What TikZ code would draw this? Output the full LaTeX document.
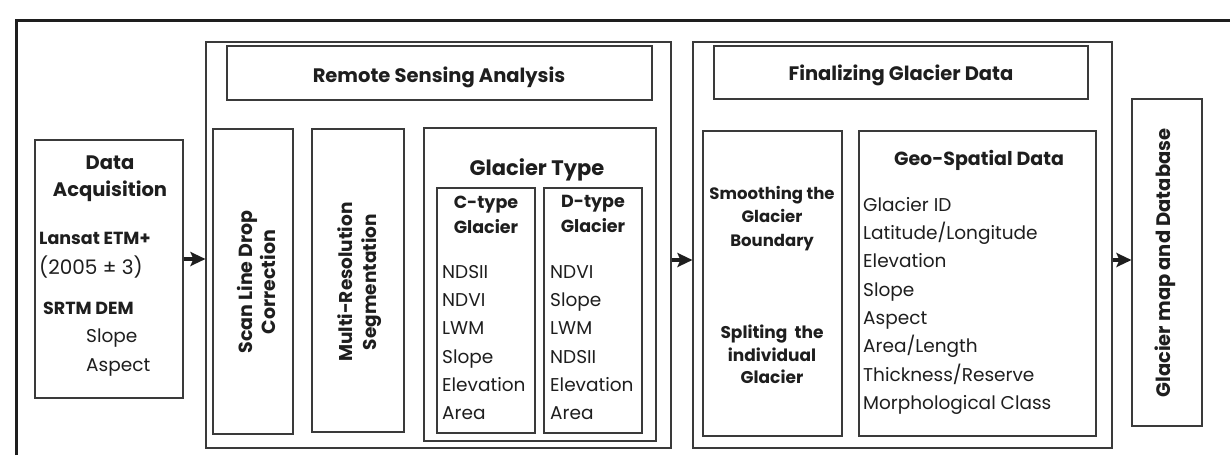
\documentclass[tikz,border=0pt]{standalone}
\usepackage{fontspec}
\setmainfont{Poppins}
\usetikzlibrary{arrows.meta}
\definecolor{lc}{HTML}{3A3A3A}
\definecolor{tc}{HTML}{1E1E1E}
\begin{document}
\begin{tikzpicture}[x=1pt,y=-1pt,
  box/.style n args={2}{draw=lc,line width=1.1pt,inner sep=0pt,minimum width=#1,minimum height=#2},
  bt/.style={text=tc,inner sep=0pt,font=\bfseries\fontsize{19.5}{23.5}\selectfont,align=center},
  sm/.style={text=tc,inner sep=0pt,font=\bfseries\fontsize{17.5}{20}\selectfont},
  lst/.style={text=tc,inner sep=0pt,font=\fontsize{18.5}{28.3}\selectfont,align=left},
  arr/.style={draw=tc,line width=3.5pt,-{Stealth[length=15pt,width=14pt,inset=3pt]}},
  frame/.style={draw=tc,line width=3pt}]
\useasboundingbox[fill=white] (0,0) rectangle (1230,455);
\draw[frame] (16,455) -- (16,20) -- (1230,20);
% boxes
\node[box={148}{258}] (dacq) at (109,269) {};
\node[box={465}{406}] (rs) at (438.5,245) {};
\node[box={425}{54}] (rshead) at (439.5,73) {};
\node[box={80}{305}] (scan) at (253,281.5) {};
\node[box={92}{303}] (multi) at (358,280.5) {};
\node[box={232}{313}] (gtype) at (540,284.5) {};
\node[box={98}{245}] (ctype) at (486,310.5) {};
\node[box={98}{245}] (dtype) at (593,310.5) {};
\node[box={419}{406}] (fin) at (902.5,245) {};
\node[box={374}{53}] (finhead) at (901,72.5) {};
\node[box={139}{305}] (smooth) at (772.5,283.5) {};
\node[box={237}{305}] (geo) at (977.5,283.5) {};
\node[box={70}{327}] (gmap) at (1167,262.5) {};
% texts
\node[bt,font=\bfseries\fontsize{19.5}{27}\selectfont,anchor=north] (dacqT) at (110,156) {Data\\Acquisition};
\node[sm,anchor=west] (lansat) at (39,238) {Lansat ETM+};
\node[lst,font=\fontsize{20}{24}\selectfont,anchor=west] (yr) at (39,267) {(2005 ± 3)};
\node[sm,anchor=west] (srtm) at (43,308) {SRTM DEM};
\node[lst,anchor=north west] (slasp) at (86,329) {Slope\\Aspect};
\node[bt,anchor=base] (rsT) at (439,82) {Remote Sensing Analysis};
\node[bt,font=\bfseries\fontsize{19}{23}\selectfont,rotate=90,anchor=center] (scanT) at (256,282) {Scan Line Drop\\Correction};
\node[bt,font=\bfseries\fontsize{18.5}{24}\selectfont,rotate=90,anchor=center] (multiT) at (360,282) {Multi-Resolution\\Segmentation};
\node[bt,font=\bfseries\fontsize{21}{24}\selectfont,anchor=base] (gtypeT) at (537,175) {Glacier Type};
\node[bt,font=\bfseries\fontsize{17.5}{25}\selectfont,anchor=north] (ctypeT) at (486,195.5) {C-type\\Glacier};
\node[bt,font=\bfseries\fontsize{17.5}{25}\selectfont,anchor=north] (dtypeT) at (593,195.5) {D-type\\Glacier};
\node[lst,anchor=north west] (clist) at (442,265) {NDSII\\NDVI\\LWM\\Slope\\Elevation\\Area};
\node[lst,anchor=north west] (dlist) at (550,265) {NDVI\\Slope\\LWM\\NDSII\\Elevation\\Area};
\node[bt,anchor=base] (finT) at (901,80) {Finalizing Glacier Data};
\node[bt,font=\bfseries\fontsize{16.5}{23.5}\selectfont,anchor=north] (smoothT) at (772,186) {Smoothing the\\Glacier\\Boundary};
\node[bt,font=\bfseries\fontsize{17}{22.5}\selectfont,anchor=north] (splitT) at (772,325) {Spliting\ \ the\\individual\\Glacier};
\node[bt,font=\bfseries\fontsize{19}{24}\selectfont,anchor=base] (geoT) at (979,165) {Geo-Spatial Data};
\node[lst,anchor=north west] (geolist) at (863,197) {Glacier ID\\Latitude/Longitude\\Elevation\\Slope\\Aspect\\Area/Length\\Thickness/Reserve\\Morphological Class};
\node[bt,rotate=90,anchor=center] (gmapT) at (1165,263) {Glacier map and Database};
% arrows
\coordinate (a1) at ([yshift=10pt]dacq.east);
\draw[arr] (a1) -- (a1 -| rs.west);
\coordinate (a2) at ([yshift=-15pt]rs.east);
\draw[arr] (a2) -- (a2 -| fin.west);
\coordinate (a3) at ([yshift=-15pt]fin.east);
\draw[arr] (a3) -- (a3 -| gmap.west);
\end{tikzpicture}
\end{document}
